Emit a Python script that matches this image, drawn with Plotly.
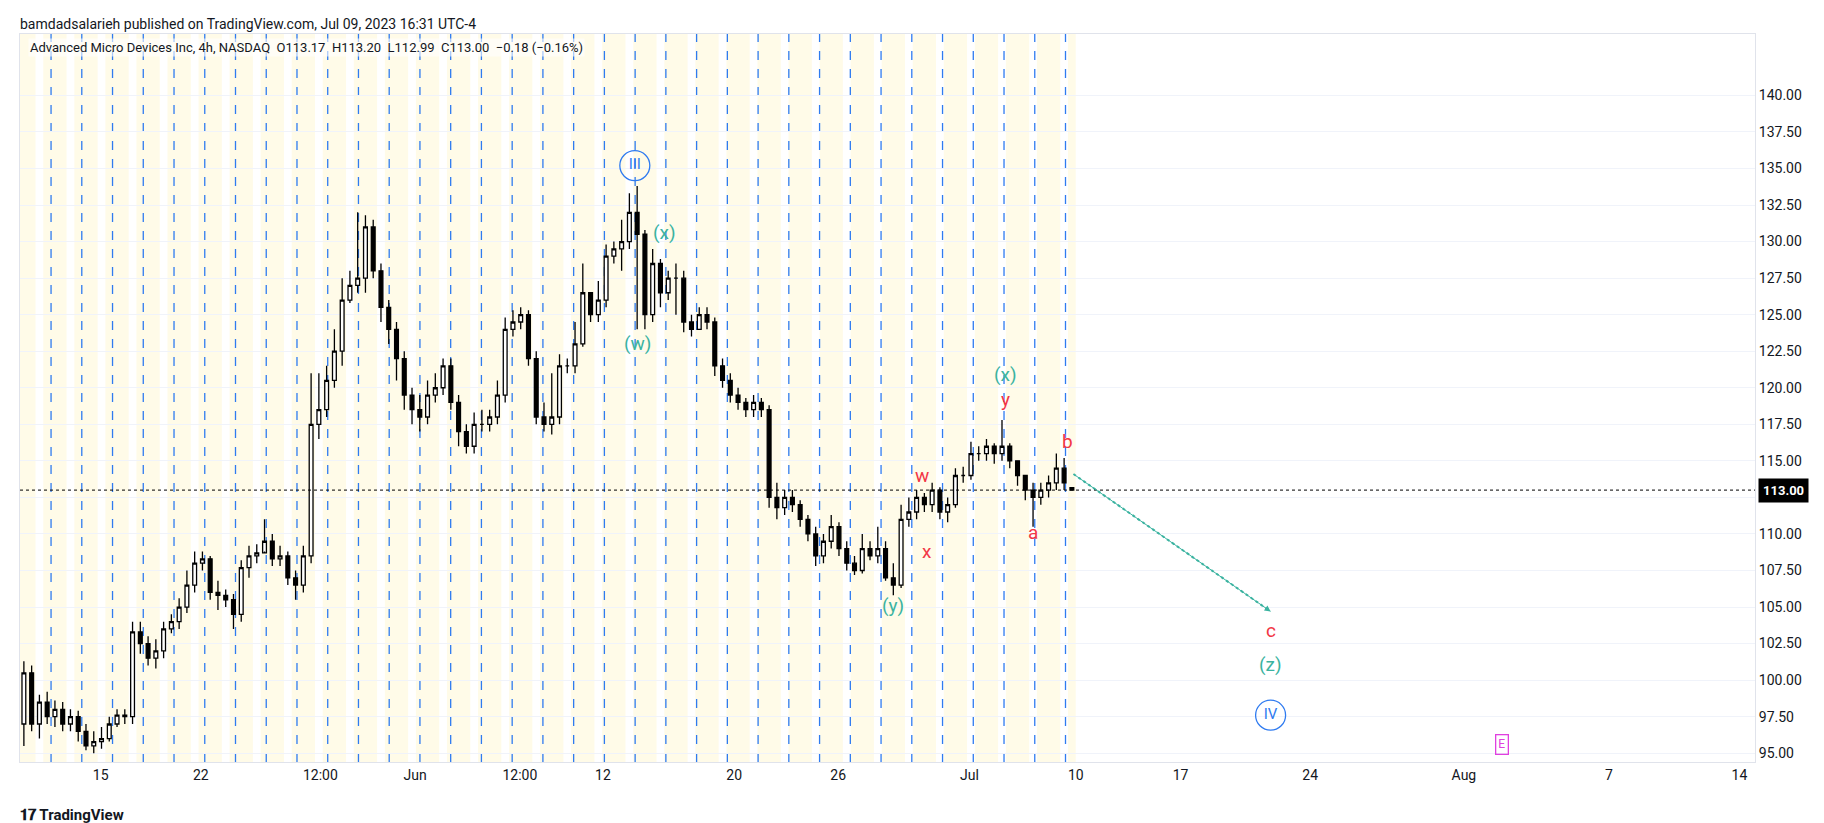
import plotly.graph_objects as go

# 4h candles, bar index on the x axis
opens = [97.0, 100.5, 97.0, 98.5, 97.5, 98.0, 97.0, 97.5, 96.5, 95.5,
         95.8, 96.0, 97.0, 97.6, 97.5, 103.3, 102.5, 101.5, 102.0, 103.5,
         104.0, 105.0, 106.5, 108.0, 108.3, 106.0, 105.8, 105.5, 104.5, 107.7,
         108.5, 108.7, 109.5, 108.3, 108.5, 107.0, 106.5, 108.5, 117.5, 118.5,
         120.5, 122.5, 126.0, 127.0, 127.5, 131.0, 128.0, 125.5, 124.0, 122.0,
         119.5, 118.5, 118.0, 119.5, 120.0, 121.5, 119.0, 117.0, 116.0, 117.5,
         117.5, 118.0, 119.5, 124.0, 124.5, 125.0, 122.0, 118.0, 117.5, 118.0,
         121.5, 121.5, 123.0, 126.5, 125.0, 126.0, 129.0, 129.5, 130.0, 132.0,
         130.5, 125.0, 128.5, 126.5, 127.5, 127.5, 124.5, 124.0, 125.0, 124.5,
         121.5, 120.5, 119.5, 119.0, 118.5, 119.0, 118.5, 112.5, 111.8, 112.5,
         112.0, 111.0, 110.0, 108.5, 109.5, 110.5, 109.0, 108.0, 107.5, 109.0,
         108.5, 109.0, 107.0, 106.5, 111.0, 111.5, 112.5, 112.0, 113.0, 111.5,
         112.0, 114.0, 114.0, 115.5, 115.5, 116.0, 115.5, 116.0, 115.0, 114.0,
         113.0, 112.5, 113.0, 113.5, 114.5, 113.17]
highs = [101.3, 101.0, 99.0, 99.2, 98.6, 98.5, 98.0, 97.9, 97.0, 96.5,
         96.8, 97.5, 98.0, 98.0, 104.0, 104.0, 103.0, 102.8, 104.0, 104.5,
         105.6, 107.5, 108.8, 108.8, 108.5, 106.8, 106.2, 105.9, 108.2, 109.2,
         109.3, 111.0, 110.0, 109.2, 108.8, 107.5, 109.2, 121.0, 121.0, 121.5,
         124.0, 127.5, 128.0, 132.0, 131.8, 131.5, 128.5, 126.0, 124.5, 122.5,
         120.0, 119.5, 120.5, 121.0, 122.0, 122.0, 119.5, 117.5, 118.3, 118.5,
         118.5, 120.5, 124.8, 125.3, 125.5, 125.3, 122.5, 119.0, 121.0, 122.3,
         122.0, 124.5, 128.5, 126.5, 127.3, 129.8, 130.0, 131.5, 133.3, 133.8,
         130.8, 129.5, 128.8, 128.0, 128.5, 128.0, 125.0, 125.5, 125.5, 124.8,
         122.0, 121.0, 120.0, 119.3, 119.5, 119.3, 118.8, 113.5, 113.0, 113.0,
         112.3, 111.3, 110.5, 110.0, 111.3, 110.8, 109.5, 108.5, 110.0, 109.5,
         110.5, 109.5, 108.0, 112.0, 112.5, 113.0, 112.8, 113.5, 113.2, 112.5,
         114.5, 114.6, 116.3, 116.0, 116.5, 116.2, 117.8, 116.2, 115.0, 114.0,
         113.5, 113.5, 114.0, 115.5, 115.2, 113.2]
lows = [95.5, 96.5, 96.0, 97.0, 96.8, 96.5, 96.5, 95.8, 95.2, 95.0,
        95.3, 95.8, 96.8, 97.0, 97.0, 101.8, 101.0, 100.8, 101.5, 103.2,
        103.5, 104.6, 106.0, 107.5, 105.5, 104.8, 105.0, 103.5, 104.0, 107.0,
        108.0, 108.8, 107.8, 107.8, 106.5, 105.5, 106.0, 108.0, 116.5, 118.0,
        120.0, 121.5, 125.8, 126.5, 126.5, 127.5, 124.5, 123.0, 120.5, 118.5,
        117.5, 117.0, 117.5, 119.0, 119.5, 118.5, 116.0, 115.5, 115.5, 117.0,
        117.0, 117.5, 119.0, 123.5, 124.0, 121.5, 117.5, 117.0, 116.8, 117.5,
        121.0, 121.0, 122.8, 124.5, 124.5, 125.5, 128.5, 128.0, 129.5, 124.0,
        124.0, 124.5, 125.5, 126.0, 125.0, 123.8, 123.5, 124.0, 124.0, 120.8,
        120.0, 119.0, 118.5, 118.0, 118.0, 118.0, 111.8, 111.0, 111.3, 111.5,
        110.5, 109.5, 107.8, 108.0, 109.0, 108.5, 107.5, 107.2, 107.3, 108.2,
        108.0, 106.8, 105.8, 106.3, 110.5, 111.0, 111.5, 111.5, 111.0, 110.8,
        111.8, 113.5, 113.7, 115.0, 115.0, 114.8, 115.0, 114.5, 113.3, 112.3,
        110.5, 112.0, 112.5, 113.0, 113.0, 112.99]
closes = [100.5, 97.0, 98.5, 97.5, 98.0, 97.0, 97.5, 96.5, 95.5, 95.8,
          96.0, 97.0, 97.6, 97.5, 103.3, 102.5, 101.5, 102.0, 103.5, 104.0,
          105.0, 106.5, 108.0, 108.3, 106.0, 105.8, 105.5, 104.5, 107.7, 108.5,
          108.7, 109.5, 108.3, 108.5, 107.0, 106.5, 108.5, 117.5, 118.5, 120.5,
          122.5, 126.0, 127.0, 127.5, 131.0, 128.0, 125.5, 124.0, 122.0, 119.5,
          118.5, 118.0, 119.5, 120.0, 121.5, 119.0, 117.0, 116.0, 117.5, 117.5,
          118.0, 119.5, 124.0, 124.5, 125.0, 122.0, 118.0, 117.5, 118.0, 121.5,
          121.5, 123.0, 126.5, 125.0, 126.0, 129.0, 129.5, 130.0, 132.0, 130.5,
          125.0, 128.5, 126.5, 127.5, 127.5, 124.5, 124.0, 125.0, 124.5, 121.5,
          120.5, 119.5, 119.0, 118.5, 119.0, 118.5, 112.5, 111.8, 112.5, 112.0,
          111.0, 110.0, 108.5, 109.5, 110.5, 109.0, 108.0, 107.5, 109.0, 108.5,
          109.0, 107.0, 106.5, 111.0, 111.5, 112.5, 112.0, 113.0, 111.5, 112.0,
          114.0, 114.0, 115.5, 115.5, 116.0, 115.5, 116.0, 115.0, 114.0, 113.0,
          112.5, 113.0, 113.5, 114.5, 113.5, 113.00]
bars = list(range(len(closes)))

tick_pos = [9.9, 22.8, 38.2, 50.4, 63.9, 74.6, 91.5, 104.9, 121.8, 135.5,
            149, 165.7, 185.5, 204.2, 221]
tick_text = ['15', '22', '12:00', 'Jun', '12:00', '12', '20', '26', 'Jul', '10',
             '17', '24', 'Aug', '7', '14']
price_ticks = [95 + 2.5 * i for i in range(19)]

# elliott wave labels: (text, bar, price, colour)
wave_labels = [('(x)', 82.5, 130.6, '#3bb3a0'), ('(w)', 79, 123.0, '#3bb3a0'),
               ('(x)', 126.4, 120.9, '#3bb3a0'), ('(y)', 112, 105.1, '#3bb3a0'),
               ('(z)', 160.6, 101.1, '#3bb3a0'),
               ('y', 126.4, 119.2, '#f23645'), ('w', 115.7, 114.0, '#f23645'),
               ('x', 116.3, 108.8, '#f23645'), ('a', 130, 110.1, '#f23645'),
               ('b', 134.4, 116.3, '#f23645'), ('c', 160.6, 103.4, '#f23645')]
circle_labels = [('III', 78.7, 135.2), ('IV', 160.6, 97.6)]
last_price = 113.00
proj_x = [135.2, 160.6]
proj_y = [114.1, 104.7]

fig = go.Figure()
fig.add_trace(go.Candlestick(
    x=bars, open=opens, high=highs, low=lows, close=closes,
    increasing=dict(line=dict(color='black', width=1.3), fillcolor='white'),
    decreasing=dict(line=dict(color='black', width=1.3), fillcolor='black'),
    whiskerwidth=0, showlegend=False))

# session background
fig.add_vrect(x0=-0.5, x1=135.5, fillcolor='#fffbe8', opacity=1, line_width=0, layer='below')
for k in range(34):
    fig.add_vrect(x0=1.5 + 4 * k, x1=2.5 + 4 * k, fillcolor='white', opacity=1,
                  line_width=0, layer='below')
for k in range(34):
    xv = 3.5 + 3.96 * k
    fig.add_shape(type='line', x0=xv, x1=xv, y0=0, y1=1, yref='paper',
                  line=dict(color='#2f7bf0', width=1.3, dash='dash'), layer='below')

fig.add_hline(y=last_price, line=dict(color='black', width=1, dash='dot'))

fig.add_trace(go.Scatter(x=proj_x, y=proj_y, mode='lines',
                         line=dict(color='#3bb3a0', width=2, dash='dot'),
                         showlegend=False, hoverinfo='skip'))
fig.add_annotation(x=proj_x[1], y=proj_y[1], ax=proj_x[0], ay=proj_y[0],
                   xref='x', yref='y', axref='x', ayref='y', text='',
                   showarrow=True, arrowhead=2, arrowsize=1.2, arrowwidth=1,
                   arrowcolor='#3bb3a0', standoff=0)

for txt, xv, yv, col in wave_labels:
    fig.add_annotation(x=xv, y=yv, text=txt, showarrow=False,
                       font=dict(color=col, size=19, family='Roboto'))
for txt, xv, yv in circle_labels:
    fig.add_trace(go.Scatter(x=[xv], y=[yv], mode='markers+text', text=[txt],
                             textposition='middle center',
                             textfont=dict(color='#2f7bf0', size=15, family='Roboto'),
                             marker=dict(symbol='circle-open', size=30, color='#2f7bf0',
                                         line=dict(color='#2f7bf0', width=1.3)),
                             showlegend=False, hoverinfo='skip'))
fig.add_annotation(x=190.4, y=95.6, text='E', showarrow=False,
                   font=dict(color='#e040e0', size=12), bordercolor='#e040e0',
                   borderwidth=1.3, borderpad=2)

fig.add_annotation(x=1, y=last_price, xref='paper', yref='y', xanchor='left',
                   text='<b>113.00</b>', showarrow=False, bgcolor='black',
                   font=dict(color='white', size=13), borderpad=4, xshift=3)

fig.add_annotation(x=0, y=1, xref='paper', yref='paper', xanchor='left', yanchor='bottom',
                   text='bamdadsalarieh published on TradingView.com, Jul 09, 2023 16:31 UTC-4',
                   showarrow=False, font=dict(size=14, color='#131722'), xshift=-2, yshift=0)
fig.add_annotation(x=0, y=1, xref='paper', yref='paper', xanchor='left', yanchor='top',
                   text='Advanced Micro Devices Inc, 4h, NASDAQ  O113.17  H113.20  L112.99  C113.00  −0.18 (−0.16%)',
                   showarrow=False, font=dict(size=13, color='#131722'), xshift=8, yshift=-4,
                   bgcolor='rgba(255,255,255,0.6)')
fig.add_annotation(x=0, y=0, xref='paper', yref='paper', xanchor='left', yanchor='top',
                   text='<b>𝟏𝟕 TradingView</b>', showarrow=False,
                   font=dict(size=15, color='#131722'), yshift=-42, xshift=-2)

fig.update_layout(
    width=1824, height=823,
    margin=dict(l=12, r=77, t=26, b=69),
    paper_bgcolor='white', plot_bgcolor='white',
    font=dict(family='Roboto', size=14, color='#131722'),
    xaxis=dict(range=[-0.5, 223], tickvals=tick_pos, ticktext=tick_text,
               showgrid=False, rangeslider=dict(visible=False), zeroline=False,
               showline=True, linecolor='#e0e3eb', mirror=True, ticks=''),
    yaxis=dict(side='right', range=[94.4, 144.2], tickvals=price_ticks,
               tickformat='.2f', showgrid=True, gridcolor='#f0f3fa', zeroline=False,
               showline=True, linecolor='#e0e3eb', mirror=True, ticks=''),
)

fig.write_html('out.html')
